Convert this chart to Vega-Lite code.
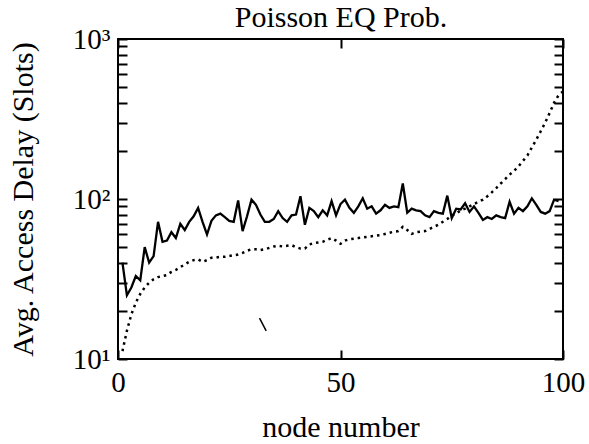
{
  "$schema": "https://vega.github.io/schema/vega-lite/v6.json",
  "width": 445,
  "height": 320,
  "autosize": {"type": "none"},
  "padding": {"left": 118, "top": 39, "right": 26, "bottom": 85},
  "background": "white",
  "config": {
    "view": {"stroke": "black", "strokeWidth": 2},
    "font": "Liberation Serif",
    "axis": {"labelFont": "Liberation Serif", "titleFont": "Liberation Serif", "labelColor": "black", "titleColor": "black", "tickColor": "black", "grid": false, "domain": false, "titleFontWeight": "normal"}
  },
  "resolve": {"axis": {"x": "independent", "y": "independent"}},
  "datasets": {
    "solid": [
      {"node": 1, "delay": 40}, {"node": 2, "delay": 25}, {"node": 3, "delay": 28}, {"node": 4, "delay": 33}, {"node": 5, "delay": 31},
      {"node": 6, "delay": 50}, {"node": 7, "delay": 40}, {"node": 8, "delay": 44}, {"node": 9, "delay": 72}, {"node": 10, "delay": 54},
      {"node": 11, "delay": 55}, {"node": 12, "delay": 62}, {"node": 13, "delay": 57}, {"node": 14, "delay": 70}, {"node": 15, "delay": 64},
      {"node": 16, "delay": 72}, {"node": 17, "delay": 78}, {"node": 18, "delay": 88}, {"node": 19, "delay": 72}, {"node": 20, "delay": 60},
      {"node": 21, "delay": 73}, {"node": 22, "delay": 79}, {"node": 23, "delay": 81}, {"node": 24, "delay": 77}, {"node": 25, "delay": 73},
      {"node": 26, "delay": 72}, {"node": 27, "delay": 98}, {"node": 28, "delay": 63}, {"node": 29, "delay": 78}, {"node": 30, "delay": 99},
      {"node": 31, "delay": 92}, {"node": 32, "delay": 80}, {"node": 33, "delay": 72}, {"node": 34, "delay": 72}, {"node": 35, "delay": 75},
      {"node": 36, "delay": 84}, {"node": 37, "delay": 76}, {"node": 38, "delay": 72}, {"node": 39, "delay": 79}, {"node": 40, "delay": 80},
      {"node": 41, "delay": 104}, {"node": 42, "delay": 69}, {"node": 43, "delay": 88}, {"node": 44, "delay": 84}, {"node": 45, "delay": 77},
      {"node": 46, "delay": 85}, {"node": 47, "delay": 79}, {"node": 48, "delay": 97}, {"node": 49, "delay": 79}, {"node": 50, "delay": 93},
      {"node": 51, "delay": 99}, {"node": 52, "delay": 88}, {"node": 53, "delay": 82}, {"node": 54, "delay": 90}, {"node": 55, "delay": 101},
      {"node": 56, "delay": 87}, {"node": 57, "delay": 90}, {"node": 58, "delay": 81}, {"node": 59, "delay": 85}, {"node": 60, "delay": 92},
      {"node": 61, "delay": 88}, {"node": 62, "delay": 90}, {"node": 63, "delay": 89}, {"node": 64, "delay": 125}, {"node": 65, "delay": 82},
      {"node": 66, "delay": 87}, {"node": 67, "delay": 85}, {"node": 68, "delay": 84}, {"node": 69, "delay": 79}, {"node": 70, "delay": 77},
      {"node": 71, "delay": 84}, {"node": 72, "delay": 82}, {"node": 73, "delay": 81}, {"node": 74, "delay": 105}, {"node": 75, "delay": 76},
      {"node": 76, "delay": 87}, {"node": 77, "delay": 86}, {"node": 78, "delay": 94}, {"node": 79, "delay": 83}, {"node": 80, "delay": 90},
      {"node": 81, "delay": 82}, {"node": 82, "delay": 74}, {"node": 83, "delay": 77}, {"node": 84, "delay": 75}, {"node": 85, "delay": 79},
      {"node": 86, "delay": 77}, {"node": 87, "delay": 76}, {"node": 88, "delay": 96}, {"node": 89, "delay": 81}, {"node": 90, "delay": 88},
      {"node": 91, "delay": 84}, {"node": 92, "delay": 90}, {"node": 93, "delay": 101}, {"node": 94, "delay": 92}, {"node": 95, "delay": 83},
      {"node": 96, "delay": 81}, {"node": 97, "delay": 84}, {"node": 98, "delay": 99}, {"node": 99, "delay": 97}
    ],
    "dotted": [
      {"node": 1, "delay": 11.2}, {"node": 2, "delay": 15}, {"node": 3, "delay": 19}, {"node": 4, "delay": 22.5}, {"node": 5, "delay": 25.5},
      {"node": 6, "delay": 28}, {"node": 7, "delay": 30}, {"node": 8, "delay": 31.5}, {"node": 9, "delay": 32.5}, {"node": 10, "delay": 33},
      {"node": 11, "delay": 33.5}, {"node": 12, "delay": 35}, {"node": 13, "delay": 36}, {"node": 14, "delay": 37.5}, {"node": 15, "delay": 39},
      {"node": 16, "delay": 40.5}, {"node": 17, "delay": 41.5}, {"node": 18, "delay": 42}, {"node": 19, "delay": 40.5}, {"node": 20, "delay": 41.5},
      {"node": 21, "delay": 43}, {"node": 22, "delay": 43}, {"node": 23, "delay": 43.5}, {"node": 24, "delay": 43.5}, {"node": 25, "delay": 44},
      {"node": 26, "delay": 44.5}, {"node": 27, "delay": 45}, {"node": 28, "delay": 46}, {"node": 29, "delay": 47.5}, {"node": 30, "delay": 48.5},
      {"node": 31, "delay": 48.5}, {"node": 32, "delay": 48}, {"node": 33, "delay": 48.5}, {"node": 34, "delay": 49.5}, {"node": 35, "delay": 50.5},
      {"node": 36, "delay": 51}, {"node": 37, "delay": 50.5}, {"node": 38, "delay": 51}, {"node": 39, "delay": 51.5}, {"node": 40, "delay": 50},
      {"node": 41, "delay": 49}, {"node": 42, "delay": 49}, {"node": 43, "delay": 52}, {"node": 44, "delay": 53}, {"node": 45, "delay": 53.5},
      {"node": 46, "delay": 54}, {"node": 47, "delay": 55.5}, {"node": 48, "delay": 57}, {"node": 49, "delay": 55}, {"node": 50, "delay": 52.5},
      {"node": 51, "delay": 55}, {"node": 52, "delay": 56}, {"node": 53, "delay": 56.5}, {"node": 54, "delay": 57}, {"node": 55, "delay": 57.5},
      {"node": 56, "delay": 58}, {"node": 57, "delay": 58.5}, {"node": 58, "delay": 59}, {"node": 59, "delay": 59.5}, {"node": 60, "delay": 60.5},
      {"node": 61, "delay": 61.5}, {"node": 62, "delay": 62.5}, {"node": 63, "delay": 63}, {"node": 64, "delay": 67}, {"node": 65, "delay": 64},
      {"node": 66, "delay": 60.5}, {"node": 67, "delay": 62}, {"node": 68, "delay": 62.5}, {"node": 69, "delay": 63}, {"node": 70, "delay": 65},
      {"node": 71, "delay": 67}, {"node": 72, "delay": 69}, {"node": 73, "delay": 72}, {"node": 74, "delay": 75}, {"node": 75, "delay": 79},
      {"node": 76, "delay": 81}, {"node": 77, "delay": 85}, {"node": 78, "delay": 87}, {"node": 79, "delay": 90}, {"node": 80, "delay": 93},
      {"node": 81, "delay": 96}, {"node": 82, "delay": 99}, {"node": 83, "delay": 104}, {"node": 84, "delay": 110}, {"node": 85, "delay": 117},
      {"node": 86, "delay": 125}, {"node": 87, "delay": 133}, {"node": 88, "delay": 142}, {"node": 89, "delay": 150}, {"node": 90, "delay": 160},
      {"node": 91, "delay": 173}, {"node": 92, "delay": 187}, {"node": 93, "delay": 210}, {"node": 94, "delay": 235}, {"node": 95, "delay": 265},
      {"node": 96, "delay": 300}, {"node": 97, "delay": 345}, {"node": 98, "delay": 400}, {"node": 99, "delay": 445}, {"node": 100, "delay": 470}
    ],
    "stray": [
      {"node": 31.8, "delay": 18}, {"node": 33.3, "delay": 15}
    ]
  },
  "layer": [
    {
      "data": {"name": "solid"},
      "mark": {"type": "line", "color": "black", "strokeWidth": 2.3, "clip": true},
      "encoding": {
        "x": {"field": "node", "type": "quantitative", "scale": {"domain": [0, 100], "nice": false},
          "axis": {"orient": "bottom", "values": [0, 50, 100], "tickSize": -9, "tickWidth": 2, "labelPadding": 18, "labelFontSize": 29, "labelFlush": false,
            "title": "node number", "titleFontSize": 30, "titleY": 77, "titleBaseline": "alphabetic"}},
        "y": {"field": "delay", "type": "quantitative", "scale": {"type": "log", "domain": [10, 1000], "nice": false},
          "axis": {"orient": "left", "values": [10, 20, 30, 40, 50, 60, 70, 80, 90, 100, 200, 300, 400, 500, 600, 700, 800, 900, 1000],
            "labelExpr": "datum.value == 10 ? '10¹' : datum.value == 100 ? '10²' : datum.value == 1000 ? '10³' : ''",
            "tickSize": -9, "tickWidth": 2, "labelPadding": 17, "labelFontSize": 29, "labelFlush": false, "labelBaseline": "middle",
            "title": "Avg. Access Delay (Slots)", "titleFontSize": 30, "titleX": -86, "titleBaseline": "alphabetic"}}
      }
    },
    {
      "data": {"name": "dotted"},
      "mark": {"type": "line", "color": "black", "strokeWidth": 2.5, "strokeDash": [2.5, 4], "clip": true},
      "encoding": {
        "x": {"field": "node", "type": "quantitative",
          "axis": {"orient": "top", "values": [0, 50, 100], "tickSize": -9, "tickWidth": 2, "labels": false,
            "title": "Poisson EQ Prob.", "titleFontSize": 30, "titleY": -13, "titleBaseline": "alphabetic"}},
        "y": {"field": "delay", "type": "quantitative",
          "axis": {"orient": "right", "values": [10, 20, 30, 40, 50, 60, 70, 80, 90, 100, 200, 300, 400, 500, 600, 700, 800, 900, 1000], "tickSize": -9, "tickWidth": 2, "labels": false, "title": null}}
      }
    },
    {
      "data": {"name": "stray"},
      "mark": {"type": "line", "color": "black", "strokeWidth": 1.5},
      "encoding": {
        "x": {"field": "node", "type": "quantitative", "axis": null},
        "y": {"field": "delay", "type": "quantitative", "axis": null}
      }
    }
  ]
}
